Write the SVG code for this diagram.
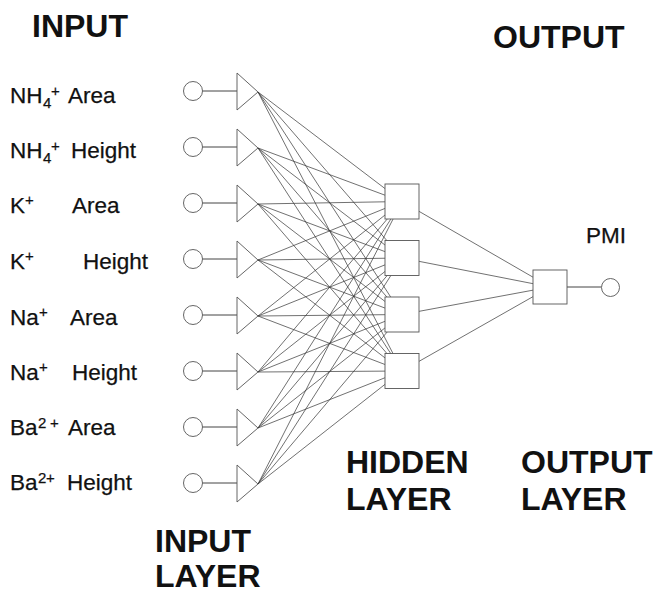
<svg xmlns="http://www.w3.org/2000/svg" width="655" height="594" viewBox="0 0 655 594">
  <style>
    .bg { fill: #ffffff; }
    .node { fill: #ffffff; stroke: #555555; stroke-width: 0.9; }
    .wire { stroke: #333333; stroke-width: 0.7; fill: none; }
    .lead { stroke: #444444; stroke-width: 1; fill: none; }
    .lbl { font-family: "Liberation Sans", Arial, sans-serif; font-size: 22.5px; fill: #111111; stroke: #111111; stroke-width: 0.25; }
    .sup { font-size: 15px; }
    .title { font-family: "Liberation Sans", Arial, sans-serif; font-size: 32px; font-weight: bold; fill: #111111; }
  </style>
  <rect class="bg" x="0" y="0" width="655" height="594"/>

  <!-- weighted connections: input -> hidden -> output -->
  <g id="connectors">
    <g id="input-hidden">
      <line class="wire" x1="258" y1="92" x2="402" y2="201.5"/><line class="wire" x1="258" y1="92" x2="402" y2="258"/><line class="wire" x1="258" y1="92" x2="402" y2="314.5"/><line class="wire" x1="258" y1="92" x2="402" y2="371"/>
      <line class="wire" x1="258" y1="148" x2="402" y2="201.5"/><line class="wire" x1="258" y1="148" x2="402" y2="258"/><line class="wire" x1="258" y1="148" x2="402" y2="314.5"/><line class="wire" x1="258" y1="148" x2="402" y2="371"/>
      <line class="wire" x1="258" y1="204" x2="402" y2="201.5"/><line class="wire" x1="258" y1="204" x2="402" y2="258"/><line class="wire" x1="258" y1="204" x2="402" y2="314.5"/><line class="wire" x1="258" y1="204" x2="402" y2="371"/>
      <line class="wire" x1="258" y1="260" x2="402" y2="201.5"/><line class="wire" x1="258" y1="260" x2="402" y2="258"/><line class="wire" x1="258" y1="260" x2="402" y2="314.5"/><line class="wire" x1="258" y1="260" x2="402" y2="371"/>
      <line class="wire" x1="258" y1="316" x2="402" y2="201.5"/><line class="wire" x1="258" y1="316" x2="402" y2="258"/><line class="wire" x1="258" y1="316" x2="402" y2="314.5"/><line class="wire" x1="258" y1="316" x2="402" y2="371"/>
      <line class="wire" x1="258" y1="372" x2="402" y2="201.5"/><line class="wire" x1="258" y1="372" x2="402" y2="258"/><line class="wire" x1="258" y1="372" x2="402" y2="314.5"/><line class="wire" x1="258" y1="372" x2="402" y2="371"/>
      <line class="wire" x1="258" y1="428" x2="402" y2="201.5"/><line class="wire" x1="258" y1="428" x2="402" y2="258"/><line class="wire" x1="258" y1="428" x2="402" y2="314.5"/><line class="wire" x1="258" y1="428" x2="402" y2="371"/>
      <line class="wire" x1="258" y1="484" x2="402" y2="201.5"/><line class="wire" x1="258" y1="484" x2="402" y2="258"/><line class="wire" x1="258" y1="484" x2="402" y2="314.5"/><line class="wire" x1="258" y1="484" x2="402" y2="371"/>
    </g>
    <g id="hidden-output">
      <line class="wire" x1="402" y1="201.5" x2="550" y2="287"/>
      <line class="wire" x1="402" y1="258" x2="550" y2="287"/>
      <line class="wire" x1="402" y1="314.5" x2="550" y2="287"/>
      <line class="wire" x1="402" y1="371" x2="550" y2="287"/>
    </g>
    <g id="leads">
      <line class="lead" x1="202.3" y1="91" x2="237" y2="91"/>
      <line class="lead" x1="202.3" y1="147" x2="237" y2="147"/>
      <line class="lead" x1="202.3" y1="203" x2="237" y2="203"/>
      <line class="lead" x1="202.3" y1="259" x2="237" y2="259"/>
      <line class="lead" x1="202.3" y1="315" x2="237" y2="315"/>
      <line class="lead" x1="202.3" y1="371" x2="237" y2="371"/>
      <line class="lead" x1="202.3" y1="427" x2="237" y2="427"/>
      <line class="lead" x1="202.3" y1="483" x2="237" y2="483"/>
      <line class="lead" x1="567" y1="287" x2="601.5" y2="287"/>
    </g>
  </g>

  <!-- input nodes: source circle + buffer triangle -->
  <g id="in1"><circle class="node" cx="193" cy="91" r="9.5"/><polygon class="node" points="237,73 258,92 237,110"/></g>
  <g id="in2"><circle class="node" cx="193" cy="147" r="9.5"/><polygon class="node" points="237,129 258,148 237,166"/></g>
  <g id="in3"><circle class="node" cx="193" cy="203" r="9.5"/><polygon class="node" points="237,185 258,204 237,222"/></g>
  <g id="in4"><circle class="node" cx="193" cy="259" r="9.5"/><polygon class="node" points="237,241 258,260 237,278"/></g>
  <g id="in5"><circle class="node" cx="193" cy="315" r="9.5"/><polygon class="node" points="237,297 258,316 237,334"/></g>
  <g id="in6"><circle class="node" cx="193" cy="371" r="9.5"/><polygon class="node" points="237,353 258,372 237,390"/></g>
  <g id="in7"><circle class="node" cx="193" cy="427" r="9.5"/><polygon class="node" points="237,409 258,428 237,446"/></g>
  <g id="in8"><circle class="node" cx="193" cy="483" r="9.5"/><polygon class="node" points="237,465 258,484 237,502"/></g>

  <!-- hidden layer -->
  <g id="h1"><rect class="node" x="385" y="184" width="34" height="35"/></g>
  <g id="h2"><rect class="node" x="385" y="240.5" width="34" height="35"/></g>
  <g id="h3"><rect class="node" x="385" y="297" width="34" height="35"/></g>
  <g id="h4"><rect class="node" x="385" y="353.5" width="34" height="35"/></g>

  <!-- output layer -->
  <g id="out"><rect class="node" x="533" y="270" width="34" height="34"/></g>
  <g id="pmi"><circle class="node" cx="610.5" cy="287.5" r="9"/><text class="lbl" x="586" y="243" font-size="21">PMI</text></g>

  <!-- input labels -->
  <g id="labels">
    <text class="lbl" x="10" y="103">NH<tspan class="sup" x="43" y="108">4</tspan><tspan class="sup" x="51" y="96">+</tspan><tspan x="68" y="103">Area</tspan></text>
    <text class="lbl" x="10" y="158">NH<tspan class="sup" x="43" y="163">4</tspan><tspan class="sup" x="51" y="151">+</tspan><tspan x="71" y="158">Height</tspan></text>
    <text class="lbl" x="10" y="213">K<tspan class="sup" x="25" y="205">+</tspan><tspan x="72" y="213">Area</tspan></text>
    <text class="lbl" x="10" y="269">K<tspan class="sup" x="25" y="261">+</tspan><tspan x="83" y="269">Height</tspan></text>
    <text class="lbl" x="10" y="325">Na<tspan class="sup" x="39" y="317">+</tspan><tspan x="70" y="325">Area</tspan></text>
    <text class="lbl" x="10" y="380">Na<tspan class="sup" x="39" y="372">+</tspan><tspan x="72" y="380">Height</tspan></text>
    <text class="lbl" x="10" y="435">Ba<tspan class="sup" x="38" y="428">2</tspan><tspan class="sup" x="50" y="428">+</tspan><tspan x="68" y="435">Area</tspan></text>
    <text class="lbl" x="10" y="490">Ba<tspan class="sup" x="38" y="483">2</tspan><tspan class="sup" x="46" y="483">+</tspan><tspan x="67" y="490">Height</tspan></text>
  </g>

  <!-- headings -->
  <g id="headings">
    <text class="title" x="32" y="37">INPUT</text>
    <text class="title" x="493" y="48">OUTPUT</text>
    <text class="title" x="346" y="473">HIDDEN</text>
    <text class="title" x="346" y="510">LAYER</text>
    <text class="title" x="521" y="473">OUTPUT</text>
    <text class="title" x="521" y="510">LAYER</text>
    <text class="title" x="155" y="552">INPUT</text>
    <text class="title" x="155" y="587">LAYER</text>
  </g>
</svg>
